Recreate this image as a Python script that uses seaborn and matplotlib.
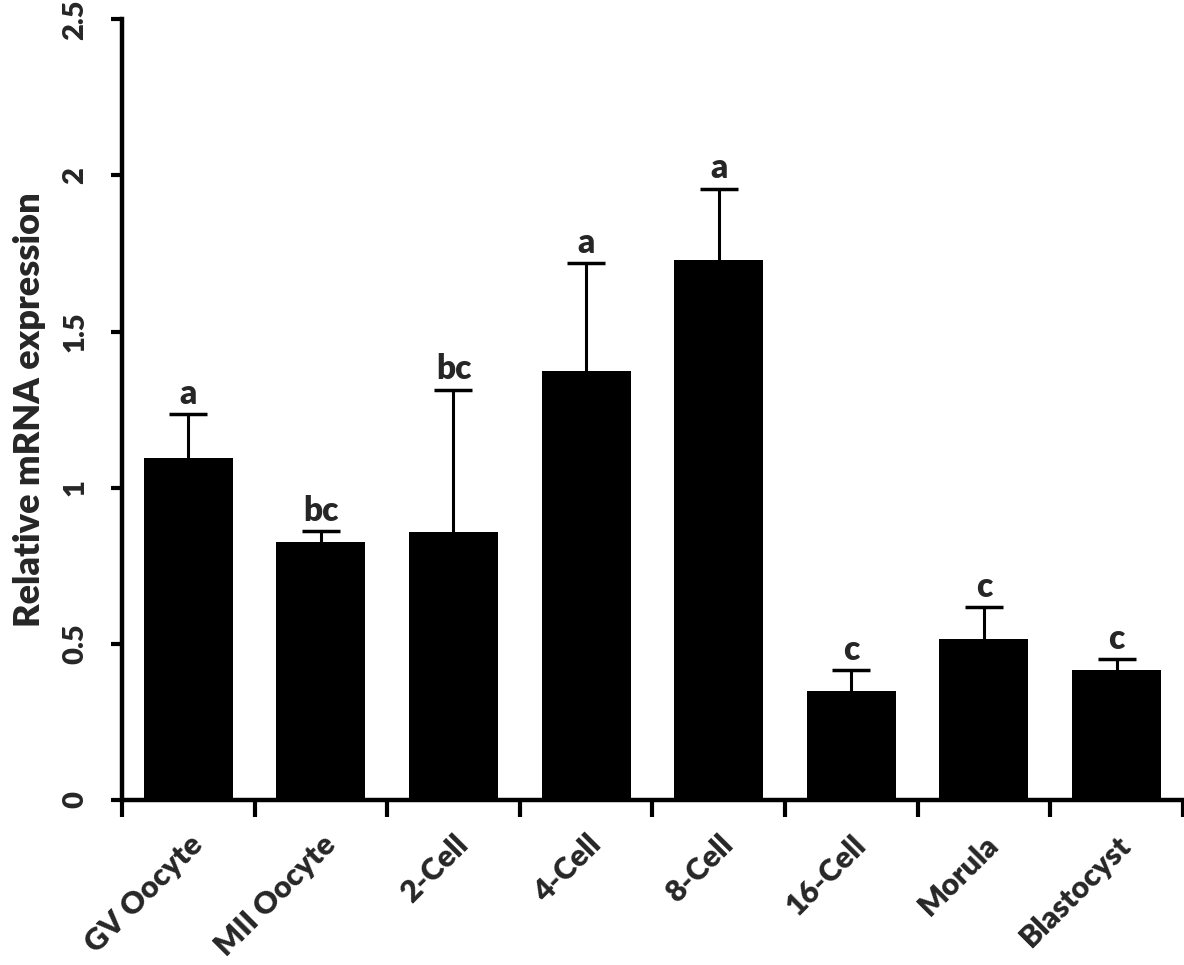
import numpy as np
import pandas as pd
import matplotlib
matplotlib.use("Agg")
import matplotlib.pyplot as plt
import seaborn as sns

stages = ["GV Oocyte", "MII Oocyte", "2-Cell", "4-Cell", "8-Cell", "16-Cell", "Morula", "Blastocyst"]
expression = [1.095, 0.826, 0.858, 1.373, 1.728, 0.350, 0.514, 0.416]
error_upper = [0.142, 0.035, 0.456, 0.345, 0.230, 0.066, 0.105, 0.034]
letters = ["a", "bc", "bc", "a", "a", "c", "c", "c"]
yticks = [0, 0.5, 1, 1.5, 2, 2.5]
ytick_labels = ["0", "0.5", "1", "1.5", "2", "2.5"]

sns.set_theme(style="ticks")
plt.rcParams["font.family"] = ["Lato", "DejaVu Sans"]
plt.rcParams["font.weight"] = "heavy"

W = "heavy"
df = pd.DataFrame({"stage": stages, "expr": expression})

fig = plt.figure(figsize=(11.84, 9.65), dpi=100)
ax = fig.add_axes([0.103, 0.171, 0.896, 0.809])

sns.barplot(data=df, x="stage", y="expr", color="black", width=0.67,
            errorbar=None, ax=ax, saturation=1, linewidth=0)

x = np.arange(len(stages))
eb = ax.errorbar(x, expression, yerr=[np.zeros(len(stages)), error_upper], fmt="none",
                 ecolor="black", elinewidth=2.2, capsize=13.5, capthick=2.5)
# hide the zero-length lower caps sitting on the bar tops
for cap in eb[1]:
    if np.allclose(np.asarray(cap.get_ydata(), dtype=float), expression):
        cap.set_visible(False)

for xi, v, e, lab in zip(x, expression, error_upper, letters):
    ax.annotate(lab, (xi, v + e), xytext=(0, 3), textcoords="offset points",
                ha="center", va="bottom", fontsize=24, fontweight=W)

ax.set_xlim(-0.5, len(stages) - 0.5)
ax.set_ylim(0, 2.5)
ax.set_yticks(yticks)
ax.set_yticklabels(ytick_labels, fontsize=21, fontweight=W, rotation=90, va="center")
ax.set_ylabel("Relative mRNA expression", fontsize=26, fontweight=W, labelpad=12)
ax.set_xlabel("")

ax.set_xticks(x)
ax.set_xticklabels(stages, fontsize=22, fontweight=W, rotation=45,
                   ha="right", rotation_mode="anchor")
ax.tick_params(axis="x", which="major", length=0, pad=22)
ax.set_xticks(np.arange(-0.5, len(stages)), minor=True)
ax.tick_params(axis="x", which="minor", length=12, width=3, color="black")
ax.tick_params(axis="y", length=8, width=3, color="black", pad=16)

sns.despine(ax=ax)
for s in ["left", "bottom"]:
    ax.spines[s].set_linewidth(3.2)
    ax.spines[s].set_color("black")

fig.savefig("out.png", dpi=100)
